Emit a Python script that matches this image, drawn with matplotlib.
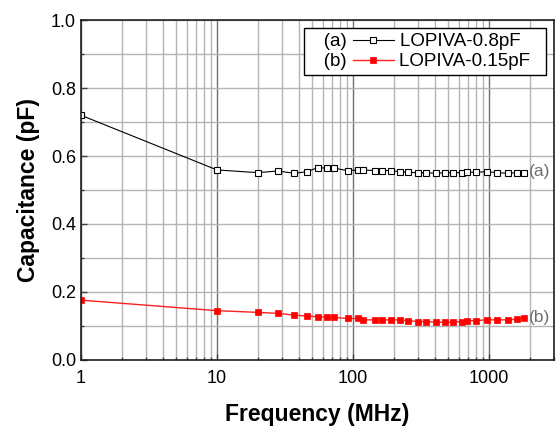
import numpy as np
import matplotlib
matplotlib.use('Agg')
from matplotlib import pyplot as plt
from matplotlib.offsetbox import TextArea
from matplotlib.ticker import LogLocator, MultipleLocator, FixedLocator, NullFormatter

plt.rcParams['font.family'] = ['Liberation Sans', 'DejaVu Sans']

# Measured frequencies (MHz)
freq = [1, 10, 20, 28, 37, 46, 55, 64, 73, 91, 109, 118, 145, 163, 190,
        220, 253, 300, 345, 405, 475, 540, 630, 685, 800, 960, 1150, 1380,
        1590, 1815]

# (a) LOPIVA-0.8pF
cap_a = [0.72, 0.559, 0.551, 0.556, 0.549, 0.554, 0.566, 0.564, 0.564,
         0.557, 0.559, 0.559, 0.557, 0.557, 0.557, 0.554, 0.552, 0.551,
         0.551, 0.549, 0.551, 0.551, 0.551, 0.552, 0.552, 0.554, 0.551,
         0.549, 0.551, 0.551]

# (b) LOPIVA-0.15pF
cap_b = [0.176, 0.145, 0.140, 0.137, 0.132, 0.129, 0.127, 0.126, 0.125,
         0.122, 0.122, 0.118, 0.118, 0.118, 0.118, 0.118, 0.116, 0.113,
         0.113, 0.111, 0.111, 0.111, 0.113, 0.115, 0.116, 0.118, 0.118,
         0.118, 0.120, 0.122]

labels = ['LOPIVA-0.8pF', 'LOPIVA-0.15pF']
tags = ['(a)', '(b)']

fig = plt.figure(figsize=(5.58, 4.26), dpi=100)
ax = fig.add_axes([0.145, 0.155, 0.848, 0.798])

la, = ax.plot(freq, cap_a, color='black', lw=0.8, marker='s', ms=4.5,
              mfc='white', mec='black', mew=0.8, label=labels[0] + '  ')
lb, = ax.plot(freq, cap_b, color='#ff2020', lw=1.0, marker='s', ms=5,
              mfc='#ff0000', mec='#ff0000', mew=0.5, label=labels[1] + '  ')

ax.set_xscale('log')
ax.set_xlim(1, 3000)
ax.set_ylim(0, 1.0)

ax.xaxis.set_major_locator(FixedLocator([1, 10, 100, 1000]))
ax.set_xticklabels(['1', '10', '100', '1000'])
ax.xaxis.set_minor_locator(LogLocator(base=10, subs=np.arange(2, 10)))
ax.xaxis.set_minor_formatter(NullFormatter())
ax.yaxis.set_major_locator(MultipleLocator(0.2))
ax.yaxis.set_minor_locator(MultipleLocator(0.1))
ax.yaxis.set_major_formatter(plt.FormatStrFormatter('%.1f'))

ax.grid(True, which='minor', color='#b4b4b4', lw=1.0)
ax.grid(True, which='major', axis='y', color='#b4b4b4', lw=1.0)
ax.grid(True, which='major', axis='x', color='#707070', lw=1.0)
ax.set_axisbelow(True)

ax.tick_params(which='both', direction='in', labelsize=13, length=4,
               width=1, color='#404040')
ax.tick_params(which='minor', length=2)
ax.tick_params(axis='x', pad=7)
for s in ax.spines.values():
    s.set_linewidth(1.2)
    s.set_color('#202020')

ax.set_xlabel('Frequency (MHz)', fontsize=16.5, fontweight='bold', labelpad=12)
ax.set_ylabel('Capacitance (pF)', fontsize=16.5, fontweight='bold', labelpad=8)

ax.text(0.992, cap_a[-1] + 0.003, tags[0], transform=ax.get_yaxis_transform(),
        ha='right', va='center', fontsize=12.5, color='#707070')
ax.text(0.992, cap_b[-1] + 0.003, tags[1], transform=ax.get_yaxis_transform(),
        ha='right', va='center', fontsize=12.5, color='#707070')

leg = ax.legend(loc='upper right', fontsize=13.5, frameon=True, fancybox=False,
                edgecolor='black', framealpha=1, handlelength=2.2,
                handletextpad=0.3, borderpad=0.25, labelspacing=0.15,
                borderaxespad=0.45)
leg.get_frame().set_linewidth(1.0)

# put the (a)/(b) tags in front of each legend entry
try:
    col = leg._legend_handle_box.get_children()[0]
    for row, tag in zip(col.get_children(), tags):
        ta = TextArea('   ' + tag, textprops=dict(fontsize=13.5, color='black'))
        ta.set_figure(fig)
        row.get_children().insert(0, ta)
except Exception:
    pass

fig.savefig('out.png', dpi=100)
